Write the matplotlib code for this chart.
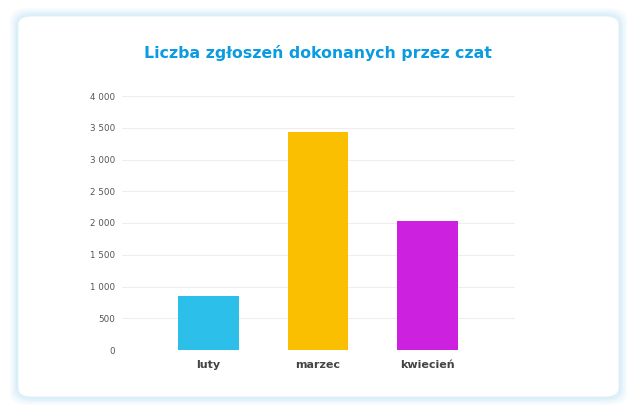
import matplotlib
matplotlib.use('Agg')
import matplotlib.pyplot as plt
from matplotlib.patches import FancyBboxPatch
import numpy as np

months = ['luty', 'marzec', 'kwiecień']
counts = [846, 3432, 2032]
bar_colors = ['#2cbfe9', '#fabf00', '#cc22df']
y_ticks = [0, 500, 1000, 1500, 2000, 2500, 3000, 3500, 4000]
y_labels = ['0', '500', '1 000', '1 500', '2 000', '2 500', '3 000', '3 500', '4 000']

W, H = 637, 416
fig = plt.figure(figsize=(W / 100, H / 100), dpi=100)
fig.patch.set_facecolor('white')

# card with soft blue glow
x0, y0, x1, y1 = 18, 16, 619, 397
for grow, a in [(8, 0.12), (6, 0.16), (4, 0.22), (2, 0.32)]:
    glow = FancyBboxPatch(((x0 - grow) / W, 1 - (y1 + grow) / H),
                          (x1 - x0 + 2 * grow) / W, (y1 - y0 + 2 * grow) / H,
                          boxstyle='round,pad=0,rounding_size=0.03',
                          transform=fig.transFigure, facecolor='#bfe4f6',
                          edgecolor='none', alpha=a, zorder=0)
    fig.patches.append(glow)
card = FancyBboxPatch((x0 / W, 1 - y1 / H), (x1 - x0) / W, (y1 - y0) / H,
                      boxstyle='round,pad=0,rounding_size=0.022',
                      transform=fig.transFigure, facecolor='white',
                      edgecolor='#e3f3fb', linewidth=0.8, zorder=1)
fig.patches.append(card)

ax = fig.add_axes([122 / W, 1 - 350 / H, (515 - 122) / W, (350 - 96) / H])
ax.set_facecolor('none')
ax.set_zorder(2)

x = np.arange(len(months))
ax.bar(x, counts, width=0.55, color=bar_colors, zorder=3)

ax.set_xlim(-0.79, 2.80)
ax.set_ylim(0, 4000)
ax.set_yticks(y_ticks)
ax.set_yticklabels(y_labels, fontsize=6.3, color='#555555')
ax.set_xticks(x)
ax.set_xticklabels(months, fontsize=8, fontweight='bold', color='#444444')
ax.tick_params(axis='both', length=0)
ax.tick_params(axis='y', pad=5)
ax.tick_params(axis='x', pad=7)
ax.grid(axis='y', color='#eeeeee', linewidth=0.8, zorder=0)
for s in ax.spines.values():
    s.set_visible(False)

fig.text(318 / W, 1 - 53 / H, 'Liczba zgłoszeń dokonanych przez czat',
         ha='center', va='center', fontsize=11.3, fontweight='bold',
         color='#0a9be0', zorder=3)

fig.savefig('out.png', dpi=100, facecolor='white')
